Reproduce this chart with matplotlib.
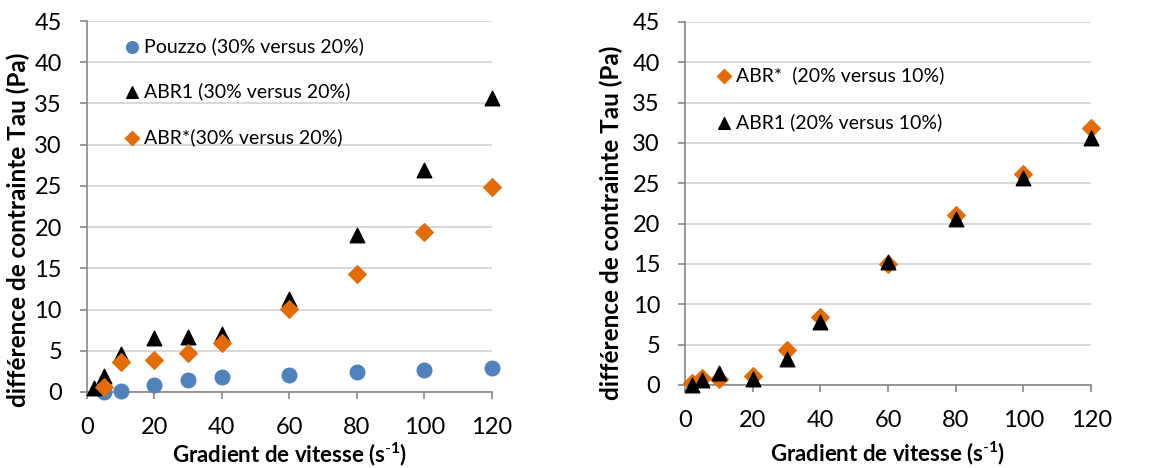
import matplotlib
matplotlib.use("Agg")
import matplotlib.pyplot as plt

plt.rcParams['font.family'] = ['Lato', 'DejaVu Sans']
plt.rcParams['mathtext.fontset'] = 'custom'
plt.rcParams['mathtext.rm'] = 'Lato'
plt.rcParams['mathtext.bf'] = 'Lato:bold'

# left panel : 30% versus 20%
x_pouzzo = [5, 10, 20, 30, 40, 60, 80, 100, 120]
y_pouzzo = [0.0, 0.08, 0.85, 1.42, 1.78, 2.1, 2.43, 2.7, 2.96]

x_abr1_l = [2, 5, 10, 20, 30, 40, 60, 80, 100, 120]
y_abr1_l = [0.5, 2.0, 4.65, 6.5, 6.7, 7.0, 11.25, 19.0, 26.9, 35.7]

x_abrs_l = [5, 10, 20, 30, 40, 60, 80, 100, 120]
y_abrs_l = [0.6, 3.6, 3.85, 4.7, 5.9, 10.1, 14.3, 19.35, 24.9]

# right panel : 20% versus 10%
x_right = [2, 5, 10, 20, 30, 40, 60, 80, 100, 120]
y_abrs_r = [0.2, 0.9, 0.75, 1.15, 4.3, 8.4, 14.95, 21.05, 26.2, 31.9]
y_abr1_r = [0.0, 0.6, 1.45, 0.7, 3.25, 7.8, 15.2, 20.6, 25.6, 30.6]

xticks = [0, 20, 40, 60, 80, 100, 120]
yticks = [0, 5, 10, 15, 20, 25, 30, 35, 40, 45]

blue = '#4f81bd'
orange = '#e36c09'
grid_c = '#d9d9d9'
spine_c = '#868686'

fig = plt.figure(figsize=(11.67, 4.68), dpi=100)
ax1 = fig.add_axes([0.0745, 0.1624, 0.347, 0.7927])
ax2 = fig.add_axes([0.587, 0.1774, 0.348, 0.776])


def style(ax, xlab_y, ylab_x, ylab_y):
    ax.set_xlim(0, 120)
    ax.set_ylim(0, 45)
    ax.set_xticks(xticks)
    ax.set_yticks(yticks)
    ax.grid(axis='y', color=grid_c, linewidth=1.5)
    ax.set_axisbelow(True)
    for s in ['top', 'right']:
        ax.spines[s].set_visible(False)
    for s in ['left', 'bottom']:
        ax.spines[s].set_color(spine_c)
        ax.spines[s].set_linewidth(1.2)
    ax.tick_params(axis='both', colors=spine_c, length=5, width=1.2,
                   labelsize=17, labelcolor='black')
    ax.tick_params(axis='x', pad=13)
    ax.tick_params(axis='y', pad=13)
    ax.set_xlabel(r'Gradient de vitesse (s$^{\mathbf{\text{-}1}}$)', fontsize=16,
                  fontweight='bold')
    ax.set_ylabel('différence de contrainte Tau (Pa)', fontsize=17.5,
                  fontweight='bold')
    ax.xaxis.set_label_coords(0.5, xlab_y)
    ax.yaxis.set_label_coords(ylab_x, ylab_y)


ax1.scatter(x_pouzzo, y_pouzzo, s=110, marker='o', color=blue,
            label='Pouzzo (30% versus 20%)', zorder=3, clip_on=False)
ax1.scatter(x_abr1_l, y_abr1_l, s=110, marker='^', color='black',
            label='ABR1 (30% versus 20%)', zorder=3, clip_on=False)
ax1.scatter(x_abrs_l, y_abrs_l, s=80, marker='D', color=orange,
            label='ABR*(30% versus 20%)', zorder=3, clip_on=False)
style(ax1, -0.131, -0.141, 0.437)
ax1.legend(loc='upper left', bbox_to_anchor=(0.043, 1.004), frameon=False,
           fontsize=14, labelspacing=1.42, handletextpad=0.15,
           handlelength=1.0, markerscale=0.8)

ax2.scatter(x_right, y_abrs_r, s=80, marker='D', color=orange,
            label='ABR*  (20% versus 10%)', zorder=3, clip_on=False)
ax2.scatter(x_right, y_abr1_r, s=110, marker='^', color='black',
            label='ABR1 (20% versus 10%)', zorder=3, clip_on=False)
style(ax2, -0.15, -0.153, 0.446)
ax2.legend(loc='upper left', bbox_to_anchor=(0.028, 0.925), frameon=False,
           fontsize=14, labelspacing=1.5, handletextpad=0.15,
           handlelength=1.0, markerscale=0.8)

fig.savefig('out.png', dpi=100)
